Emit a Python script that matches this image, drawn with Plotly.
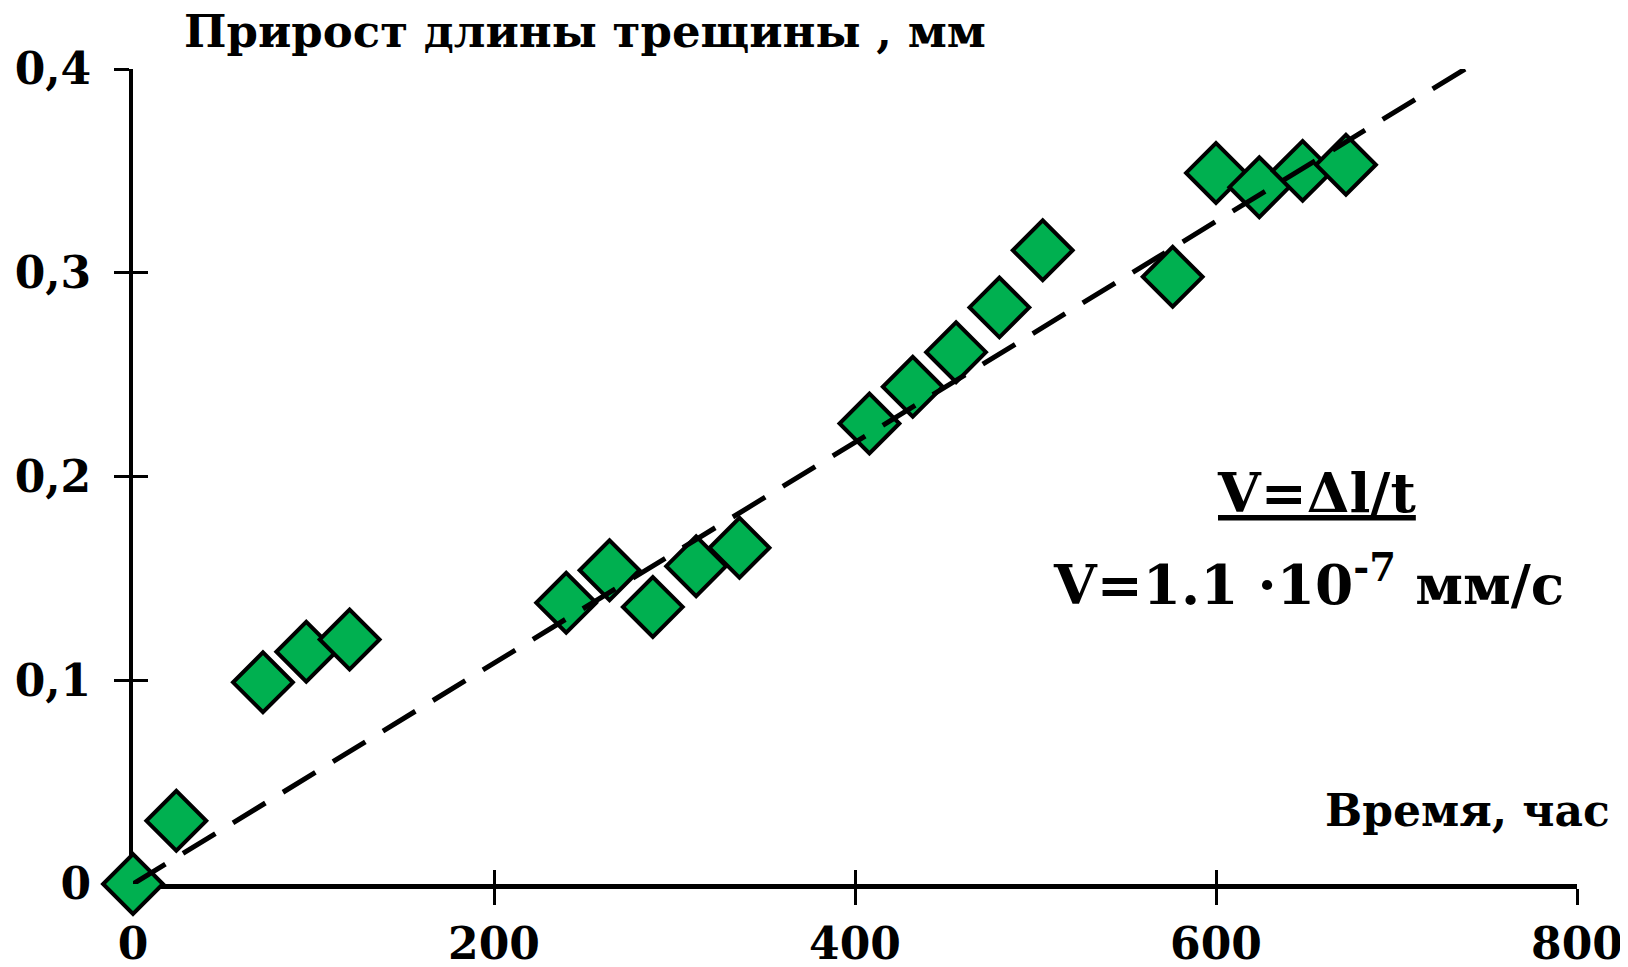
import plotly.graph_objects as go

# Data
time_h = [0, 24, 72, 96, 120, 240, 264, 288, 312, 336, 408, 432, 456, 480, 504, 576, 600, 624, 648, 672]
crack_mm = [0.0, 0.031, 0.099, 0.114, 0.120, 0.138, 0.154, 0.136, 0.156, 0.165,
            0.226, 0.244, 0.261, 0.283, 0.311, 0.298, 0.349, 0.342, 0.350, 0.353]
trend_x = [0, 738]
trend_y = [0.0, 0.4]

x_ticks = [0, 200, 400, 600, 800]
x_labels = ["0", "200", "400", "600", "800"]
y_ticks = [0, 0.1, 0.2, 0.3, 0.4]
y_labels = ["0", "0,1", "0,2", "0,3", "0,4"]

# page has an 8px body margin; compensate so plot area lands where the reference has it
BODY = 8
W, H = 1628 - BODY, 967 - BODY
L, R, T, B = 133 - BODY, 51, 69 - BODY, 83
FONT = "DejaVu Serif"

fig = go.Figure()
fig.add_trace(go.Scatter(
    x=time_h, y=crack_mm, mode="markers",
    marker=dict(symbol="diamond", size=46, color="#00B050",
                line=dict(color="black", width=4)),
    cliponaxis=False, showlegend=False, hoverinfo="x+y"))
fig.add_trace(go.Scatter(
    x=trend_x, y=trend_y, mode="lines",
    line=dict(color="black", width=5, dash="38px,20.6px"),
    cliponaxis=False, showlegend=False, hoverinfo="skip"))
# invisible trace to hold the overlay axes (for crossing ticks)
fig.add_trace(go.Scatter(
    x=[time_h[0]], y=[crack_mm[0]], mode="markers", xaxis="x2", yaxis="y2",
    marker=dict(opacity=0), showlegend=False, hoverinfo="skip"))

tickfont = dict(family=FONT, size=44, color="black", weight="bold")
fig.update_layout(
    width=W, height=H,
    margin=dict(l=L, r=R, t=T, b=B, pad=0),
    paper_bgcolor="white", plot_bgcolor="white",
    xaxis=dict(range=[0, 800], tickvals=x_ticks, ticktext=x_labels, automargin=False,
               showgrid=False, zeroline=False, showline=True, linecolor="black",
               linewidth=5, ticks="outside", ticklen=16, tickwidth=3, tickcolor="black",
               ticklabelstandoff=1,
               tickfont=tickfont, layer="below traces", fixedrange=True),
    yaxis=dict(range=[0, 0.4], tickvals=y_ticks, ticktext=y_labels, automargin=False,
               showgrid=False, zeroline=False, showline=True, linecolor="black",
               linewidth=4, ticks="outside", ticklen=15, tickwidth=3, tickcolor="black",
               ticklabelstandoff=14,
               tickfont=tickfont, layer="below traces", fixedrange=True),
    xaxis2=dict(range=[0, 800], overlaying="x", anchor="y2", side="bottom", automargin=False,
                tickvals=x_ticks, showticklabels=False, showgrid=False, zeroline=False,
                showline=False, ticks="inside", ticklen=14, tickwidth=3, tickcolor="black",
                layer="below traces", fixedrange=True),
    yaxis2=dict(range=[0, 0.4], overlaying="y", anchor="x2", side="left", automargin=False,
                tickvals=y_ticks, showticklabels=False, showgrid=False, zeroline=False,
                showline=False, ticks="inside", ticklen=15, tickwidth=3, tickcolor="black",
                layer="below traces", fixedrange=True),
)

# plot area in page pixels: x 133..1577, y 69..884
def px(xp):
    return (xp - 133) / (1577 - 133)
def py(yp):
    return (884 - yp) / (884 - 69)

fig.add_annotation(text="<b>Прирост длины трещины , мм</b>", xref="paper", yref="paper",
                   x=px(182), y=py(31), xanchor="left", yanchor="middle", showarrow=False,
                   font=dict(family=FONT, size=45, color="black"))
fig.add_annotation(text="<b>Время, час</b>", xref="paper", yref="paper",
                   x=px(1612), y=py(810), xanchor="right", yanchor="middle", showarrow=False,
                   font=dict(family=FONT, size=44, color="black"))
fig.add_annotation(text="<b><u>V=Δl/t</u></b>", xref="paper", yref="paper",
                   x=px(1316), y=py(492), xanchor="center", yanchor="middle", showarrow=False,
                   font=dict(family=FONT, size=55, color="black"))
fig.add_annotation(text="<b>V=1.1 ·10<sup>-7</sup> мм/с</b>", xref="paper", yref="paper",
                   x=px(1308), y=py(581), xanchor="center", yanchor="middle", showarrow=False,
                   font=dict(family=FONT, size=55, color="black"))

fig.write_html("out.html")
